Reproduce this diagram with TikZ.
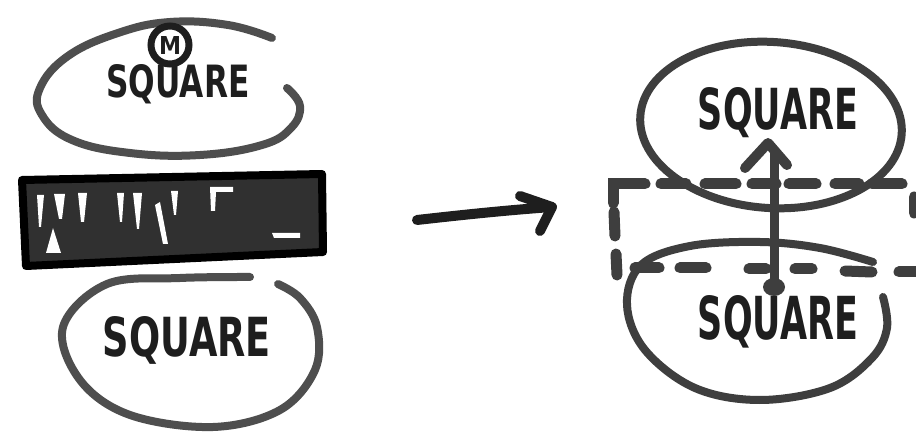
\documentclass[tikz,border=0pt]{standalone}
\usepackage{fontspec}
\usepackage{graphicx}
\newfontfamily\handfont{DejaVu Sans}
\definecolor{ink}{RGB}{30,30,30}
\definecolor{pen}{RGB}{62,62,62}
\definecolor{penl}{RGB}{78,78,78}
\definecolor{barfill}{RGB}{48,48,48}
\begin{document}
\begin{tikzpicture}[x=1pt,y=-1pt,
  loop/.style={draw=pen,line width=8pt,line cap=round,line join=round},
  loopl/.style={draw=penl,line width=8pt,line cap=round,line join=round},
  dashseg/.style={draw=pen,line width=11pt,line cap=round},
  bold/.style={draw=ink,line width=10pt,line cap=round,line join=round},
  word/.style={text=ink,inner sep=0pt,font=\handfont\bfseries},
  gap/.style={fill=white,draw=none}]
\useasboundingbox (0,0) rectangle (916,438);
\fill[white] (0,0) rectangle (916,438);

% ---- left top ellipse (open at upper right) ----
\draw[loopl] plot[smooth,tension=0.7] coordinates {(287,88) (300,106) (291,128) (262,145) (200,155) (130,153) (72,140) (42,115) (40,88) (68,56) (118,33) (170,22) (228,25) (272,38)};
% metro badge
\draw[ink,line width=7pt] (170,45) circle (19);
\node[word] (metro) at (170,46) {\resizebox{22pt}{18pt}{M}};
\node[word] (sqTL) at (178,84) {\resizebox{143pt}{33pt}{SQUARE}};

% ---- dark bar ----
\filldraw[fill=barfill,draw=black,line width=8pt,line join=round] (22,180) -- (322,174) -- (323,252) -- (26,266) -- cycle;
\fill[gap] (37,195) -- (44,195) -- (41,227) -- (39,227) -- cycle;
\fill[gap] (46,253) -- (61,253) -- (53,228) -- cycle;
\fill[gap] (54,194) -- (65,194) -- (62,219) -- (59,219) -- cycle;
\fill[gap] (78,193) -- (87,193) -- (84,222) -- (81,222) -- cycle;
\fill[gap] (117,193) -- (124,193) -- (122,222) -- (120,222) -- cycle;
\fill[gap] (133,193) -- (142,193) -- (139,229) -- (137,229) -- cycle;
\fill[gap] (155,205) -- (160,202) -- (168,244) -- (163,244) -- cycle;
\fill[gap] (171,191) -- (178,191) -- (176,215) -- (174,215) -- cycle;
\fill[gap] (210,187) -- (233,187) -- (233,192) -- (216,192) -- (215,211) -- (211,211) -- cycle;
\fill[gap] (272,233) -- (300,233) -- (300,238) -- (274,238) -- cycle;

% ---- left bottom ellipse (open at top right) ----
\draw[loopl] plot[smooth,tension=0.6] coordinates {(250,277) (180,278) (107,284) (63,327) (80,380) (130,415) (213,427) (280,410) (315,370) (317,327) (300,298) (278,284)};
\node[word] (sqBL) at (187,340) {\resizebox{168pt}{40pt}{SQUARE}};

% ---- middle arrow ----
\coordinate (aStart) at (417,220);
\coordinate (aTip) at (552,207);
\draw[bold] (aStart) .. controls (470,214) and (510,210) .. (aTip);
\draw[bold] (520,196) -- (aTip) -- (540,231);

% ---- right top ellipse ----
\draw[loop,rotate around={-4:(771,125)}] (771,125) ellipse (131 and 83);
\node[word] (sqTR) at (778,113) {\resizebox{160pt}{42pt}{SQUARE}};

% ---- right bottom ellipse (open at right) ----
\draw[loop] plot[smooth,tension=0.6] coordinates {(873,262) (820,248) (760,242) (690,246) (641,265) (627,305) (645,350) (695,388) (760,400) (830,388) (872,358) (887,328) (883,297)};
\node[word] (sqBR) at (778,322) {\resizebox{160pt}{44pt}{SQUARE}};

% ---- dashed frame ----
\draw[dashseg] (613,203) -- (613,184) -- (645,184);
\draw[dashseg] (661,184) -- (686,184);
\draw[dashseg] (705,184) -- (736,184);
\draw[dashseg] (752,184) -- (776,184);
\draw[dashseg] (789,184) -- (816,184);
\draw[dashseg] (835,184) -- (859,184);
\draw[dashseg] (872,184) -- (902,184);
\draw[dashseg] (914,197) -- (914,213);
\draw[dashseg] (614,212) -- (615,236);
\draw[dashseg] (616,254) -- (617,275);
\draw[dashseg] (635,268) -- (659,268);
\draw[dashseg] (680,268) -- (706,268);
\draw[dashseg] (749,269) -- (766,269);
\draw[dashseg] (795,269) -- (812,269);
\draw[dashseg] (845,271) -- (872,272);
\draw[dashseg] (899,272) -- (918,272);

% ---- vertical arrow ----
\coordinate (vStart) at (774,287);
\coordinate (vTip) at (768,143);
\draw[bold,draw=pen,line width=9pt] (vStart) -- (774,152);
\fill[pen] (vStart) ellipse (11 and 9);
\draw[bold,draw=pen,line width=10pt] (745,168) -- (vTip) -- (787,165);
\end{tikzpicture}
\end{document}
